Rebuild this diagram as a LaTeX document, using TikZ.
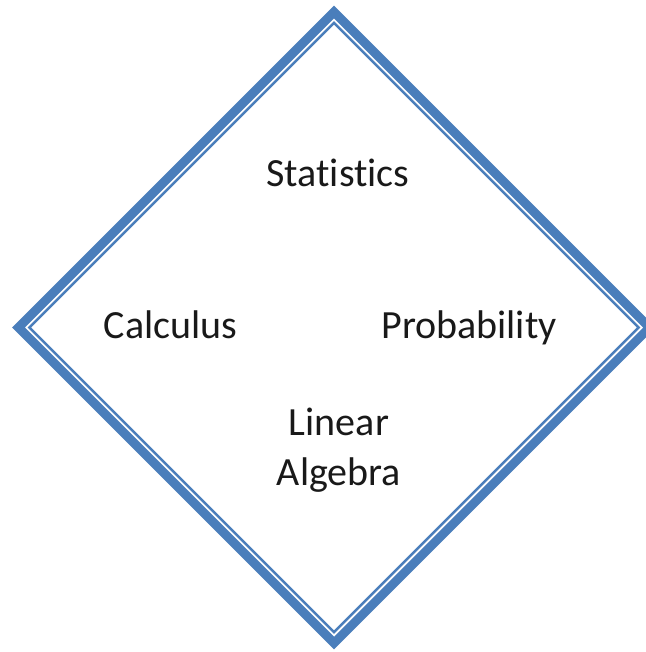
\documentclass[tikz,border=0pt]{standalone}
\usepackage{fontspec}
\setmainfont{Carlito}[Ligatures={NoCommon}]
\usetikzlibrary{calc}
\definecolor{frameblue}{RGB}{74,126,187}
\begin{document}
\begin{tikzpicture}[x=1pt,y=-1pt,
  lbl/.style={font=\fontsize{40}{50}\selectfont, inner sep=0pt, anchor=base, text=black!90, align=center},
  thickframe/.style={draw=frameblue, line width=9pt, line join=miter},
  thinframe/.style={draw=frameblue, line width=2.5pt, line join=miter}]
\useasboundingbox (0,0) rectangle (645,652);
\coordinate (c) at (334,327.5);
\draw[thickframe] ($(c)+(0,-315.6)$) -- ($(c)+(315.6,0)$) -- ($(c)+(0,315.6)$) -- ($(c)+(-315.6,0)$) -- cycle;
\draw[thinframe] ($(c)+(0,-304.6)$) -- ($(c)+(304.6,0)$) -- ($(c)+(0,304.6)$) -- ($(c)+(-304.6,0)$) -- cycle;
\node[lbl] (stat) at (338,187) {Statistics};
\node[lbl] (calc) at (170.5,338) {Calculus};
\node[lbl] (prob) at (469,338) {Probability};
\node[lbl] (linalg) at (339,485) {Linear\\Algebra};
\end{tikzpicture}
\end{document}
